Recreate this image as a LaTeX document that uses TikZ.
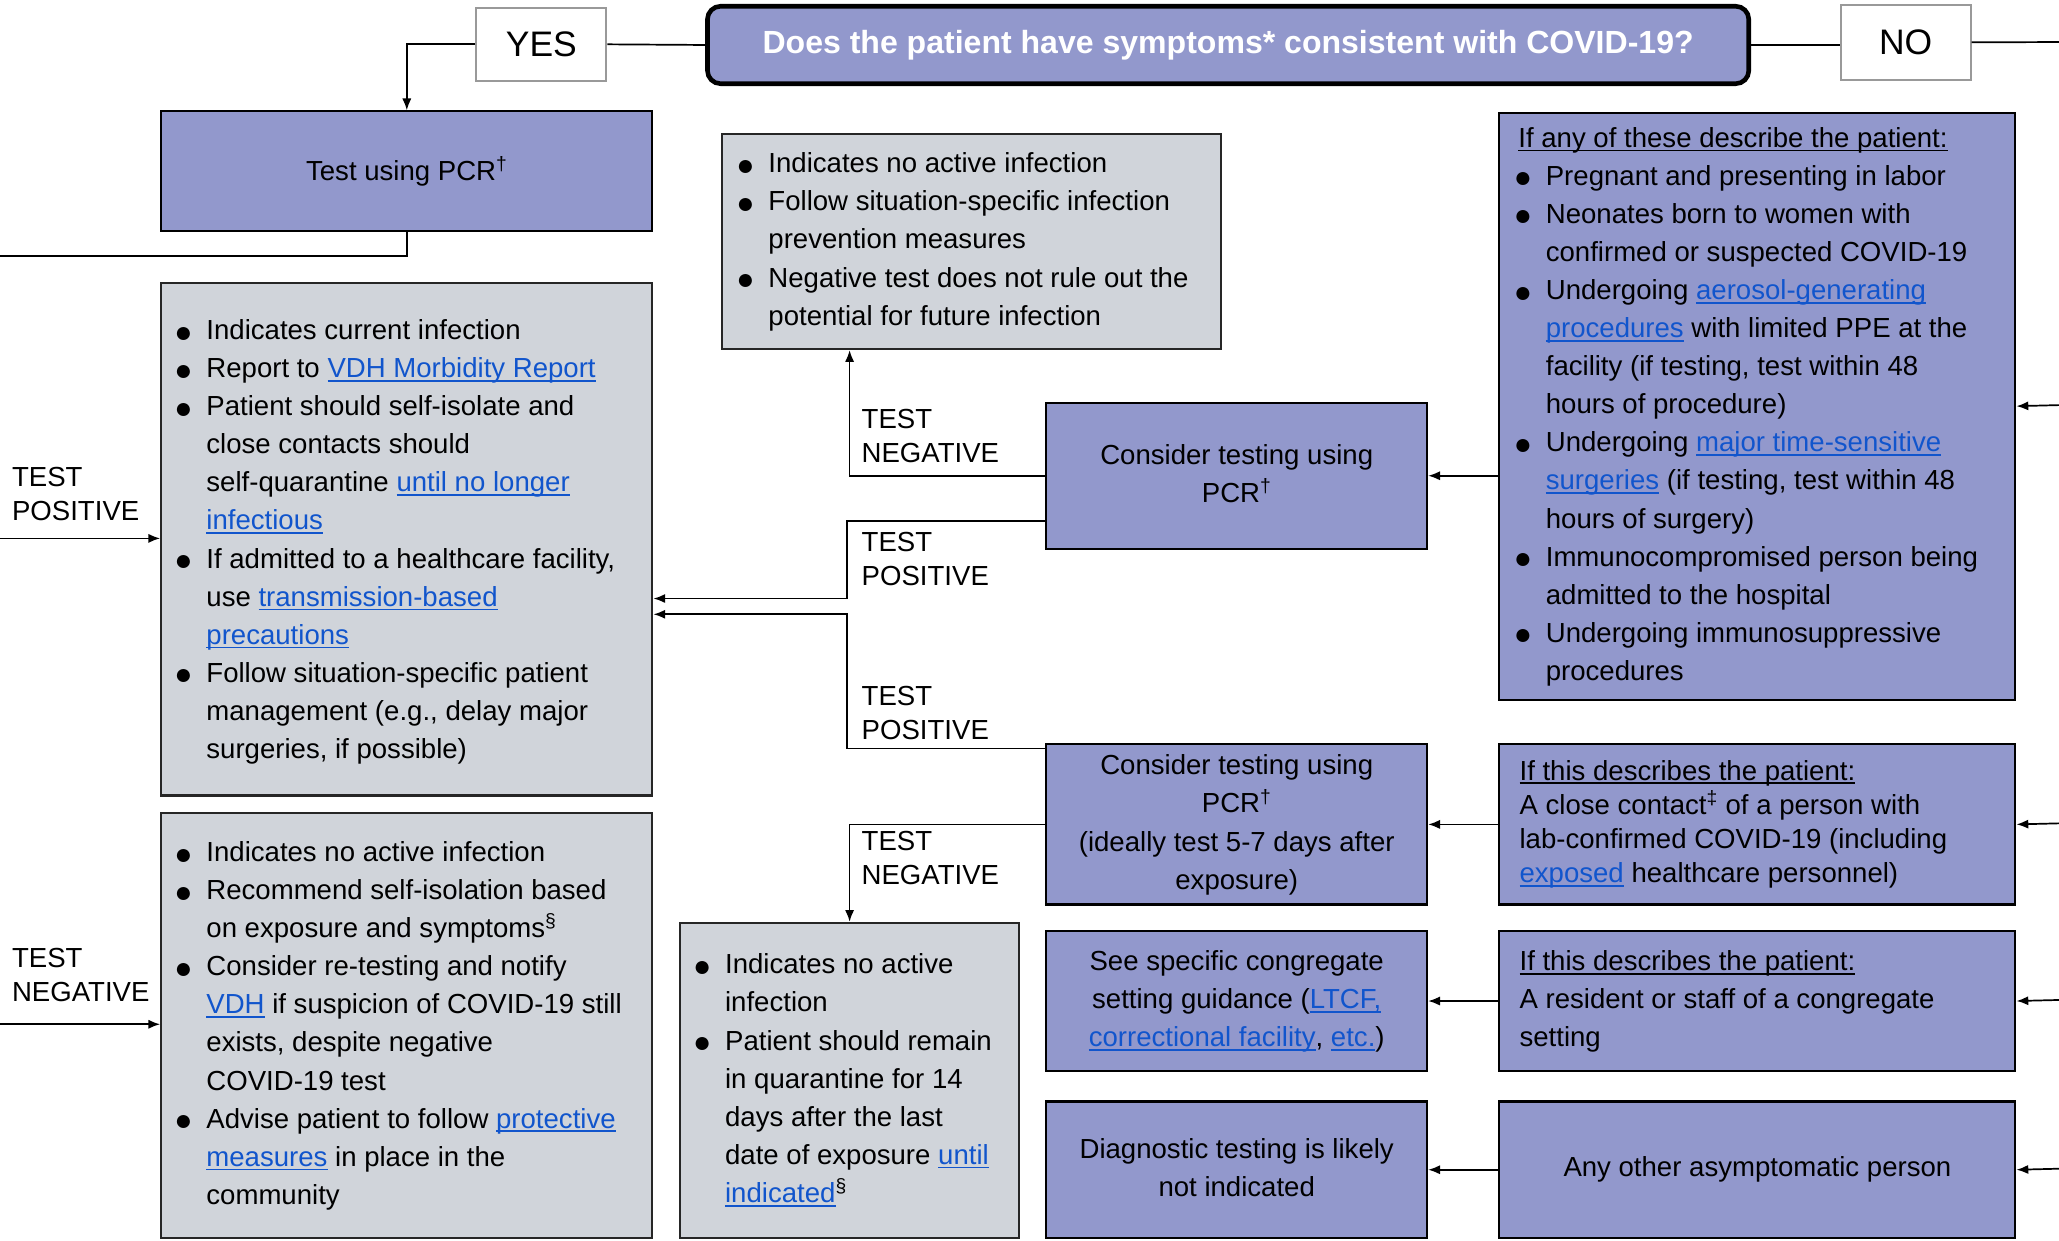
\documentclass[tikz,border=0pt]{standalone}
\usepackage{fontspec}
\setmainfont{Liberation Sans}
\usetikzlibrary{arrows.meta}
\definecolor{boxblue}{RGB}{146,152,204}
\definecolor{boxgray}{RGB}{208,212,218}
\definecolor{linkblue}{RGB}{17,85,204}
\newsavebox\ulbox
\newcommand\myul[1]{\sbox\ulbox{#1}\rlap{\rule[-3.2pt]{\wd\ulbox}{1.4pt}}\usebox\ulbox}
\newcommand\lnk[1]{\textcolor{linkblue}{\myul{#1}}}
\newcommand\bl{\makebox[24.4pt][l]{\raisebox{-1.9pt}{\fontsize{23}{29}\selectfont ●}}}
\newcommand\ii{\hspace*{24.4pt}}
\newcommand\dg{\textsuperscript{†}}
\newcommand\bodyfont{\fontsize{21}{29}\selectfont}
\newcommand\tightfont{\fontsize{21}{26}\selectfont}
\begin{document}
\begin{tikzpicture}[x=1pt,y=-1pt,
  box/.style={draw=black, line width=1.6pt, inner sep=0pt, anchor=north west},
  bluebox/.style={box, fill=boxblue, align=center, font=\bodyfont},
  graybox/.style={box, fill=boxgray, draw=black!85},
  ans/.style={draw=black!40, line width=1.5pt, fill=white, inner sep=0pt, anchor=north west, font=\fontsize{27}{32}\selectfont},
  txt/.style={inner sep=0pt, align=left, font=\bodyfont, anchor=west},
  lab/.style={inner sep=0pt, align=left, font=\tightfont, anchor=west},
  conn/.style={line width=1.3pt},
  arr/.style={conn, -{Latex[length=9pt,width=7pt]}},
]
\path[use as bounding box] (0,0) rectangle (1568,945);

% title and answers
\node[draw=black, line width=3.5pt, fill=boxblue, rounded corners=10pt, minimum width=793, minimum height=59, inner sep=0pt, anchor=north west, text=white, font=\fontsize{24.4}{28}\selectfont\bfseries] (q) at (537,3) {Does the patient have symptoms* consistent with COVID-19?};
\node[ans, minimum width=99, minimum height=56] (yes) at (362,5) {YES};
\node[ans, minimum width=99, minimum height=57] (no) at (1401,3) {NO};

% left column
\node[bluebox, minimum width=374, minimum height=91] (pcr) at (122,84) {Test using PCR\dg};
\node[graybox, minimum width=374, minimum height=390] (gpos) at (122,215) {};
\node[txt] (gpost) at ([xshift=10.6pt,yshift=-1.5pt]gpos.west) {\strut\bl Indicates current infection\\
\bl Report to \lnk{VDH Morbidity Report}\\
\bl Patient should self-isolate and\\
\ii close contacts should\\
\ii self-quarantine \lnk{until no longer}\\
\ii\lnk{infectious}\\
\bl If admitted to a healthcare facility,\\
\ii use \lnk{transmission-based}\\
\ii\lnk{precautions}\\
\bl Follow situation-specific patient\\
\ii management (e.g., delay major\\
\ii surgeries, if possible)\strut};
\node[graybox, minimum width=374, minimum height=324] (gneg) at (122,618) {};
\node[txt] (gnegt) at ([xshift=10.6pt]gneg.west) {\strut\bl Indicates no active infection\\
\bl Recommend self-isolation based\\
\ii on exposure and symptoms\textsuperscript{§}\\
\bl Consider re-testing and notify\\
\ii\lnk{VDH} if suspicion of COVID-19 still\\
\ii exists, despite negative\\
\ii COVID-19 test\\
\bl Advise patient to follow \lnk{protective}\\
\ii\lnk{measures} in place in the\\
\ii community\strut};

% middle column
\node[graybox, minimum width=380, minimum height=164] (tg) at (549,101) {};
\node[txt] (tgt) at ([xshift=11.6pt]tg.west) {\strut\bl Indicates no active infection\\
\bl Follow situation-specific infection\\
\ii prevention measures\\
\bl Negative test does not rule out the\\
\ii potential for future infection\strut};
\node[bluebox, minimum width=290, minimum height=111] (pcr1) at (796,306) {\strut Consider testing using\\PCR\dg\strut};
\node[bluebox, minimum width=290, minimum height=122] (pcr2) at (796,566) {\strut Consider testing using\\PCR\dg\\(ideally test 5-7 days after\\exposure)\strut};
\node[graybox, minimum width=258, minimum height=240] (bg) at (517,702) {};
\node[txt] (bgt) at ([xshift=10.6pt]bg.west) {\strut\bl Indicates no active\\
\ii infection\\
\bl Patient should remain\\
\ii in quarantine for 14\\
\ii days after the last\\
\ii date of exposure \lnk{until}\\
\ii\lnk{indicated}\textsuperscript{§}\strut};
\node[bluebox, minimum width=290, minimum height=107] (cong) at (796,708) {\strut See specific congregate\\setting guidance (\lnk{LTCF,}\\\lnk{correctional facility}, \lnk{etc.})\strut};
\node[bluebox, minimum width=290, minimum height=104] (diag) at (796,838) {\strut Diagnostic testing is likely\\not indicated\strut};

% right column
\node[bluebox, minimum width=393, minimum height=447] (r1) at (1141,85) {};
\node[txt] (r1t) at ([xshift=11.6pt]r1.west) {\strut\hspace*{3.5pt}\myul{If any of these describe the patient:}\\
\bl Pregnant and presenting in labor\\
\bl Neonates born to women with\\
\ii confirmed or suspected COVID-19\\
\bl Undergoing \lnk{aerosol-generating}\\
\ii\lnk{procedures} with limited PPE at the\\
\ii facility (if testing, test within 48\\
\ii hours of procedure)\\
\bl Undergoing \lnk{major time-sensitive}\\
\ii\lnk{surgeries} (if testing, test within 48\\
\ii hours of surgery)\\
\bl Immunocompromised person being\\
\ii admitted to the hospital\\
\bl Undergoing immunosuppressive\\
\ii procedures\strut};
\node[bluebox, minimum width=393, minimum height=122] (r2) at (1141,566) {};
\node[txt, font=\tightfont] (r2t) at ([xshift=16pt]r2.west) {\strut\myul{If this describes the patient:}\\
A close contact\textsuperscript{‡} of a person with\\
lab-confirmed COVID-19 (including\\
\lnk{exposed} healthcare personnel)\strut};
\node[bluebox, minimum width=393, minimum height=107] (r3) at (1141,708) {};
\node[txt] (r3t) at ([xshift=16pt]r3.west) {\strut\myul{If this describes the patient:}\\
A resident or staff of a congregate\\
setting\strut};
\node[bluebox, minimum width=393, minimum height=104] (r4) at (1141,838) {Any other asymptomatic person};

% free ends
\coordinate (noR) at (1568,32);
\coordinate (pcrL) at (0,195);
\coordinate (posL) at (0,410);
\coordinate (negL) at (0,780);
\coordinate (r1R) at (1568,308.5);
\coordinate (r2R) at (1568,627);
\coordinate (r3R) at (1568,761.5);
\coordinate (r4R) at (1568,890);

% connectors
\draw[conn] (q.west) -- (yes.east);
\draw[arr] (yes.west) -| (pcr.north);
\draw[conn] (q.east) -- (q.east -| no.west);
\draw[conn] (no.east) -- (noR);
\draw[conn] (pcr.south) |- (pcrL);
\draw[arr] (posL) -- (posL -| gpos.west);
\draw[arr] (negL) -- (negL -| gneg.west);
\draw[arr] (r1R) -- (r1.east);
\draw[arr] (r2R) -- (r2.east);
\draw[arr] (r3R) -- (r3.east);
\draw[arr] (r4R) -- (r4.east);
\draw[arr] (r1.west |- pcr1.east) -- (pcr1.east);
\draw[arr] (r2.west) -- (pcr2.east);
\draw[arr] (r3.west) -- (cong.east);
\draw[arr] (r4.west) -- (diag.east);
\draw[arr] (pcr1.west) -| ([xshift=98pt]tg.south west);
\draw[arr] ([yshift=-34.5pt]pcr1.west) -- ++(-151,0) |- ([yshift=-45pt]gpos.east);
\draw[arr] ([yshift=-4pt]pcr2.north west) -- ++(-151,0) |- ([yshift=-57pt]gpos.east);
\draw[arr] (pcr2.west) -| ([xshift=130pt]bg.north west);

% labels
\node[lab] (lneg1) at (656,332) {TEST\\NEGATIVE};
\node[lab] (lpos1) at (656,426) {TEST\\POSITIVE};
\node[lab] (lpos2) at (656,543) {TEST\\POSITIVE};
\node[lab] (lneg2) at (656,653.5) {TEST\\NEGATIVE};
\node[lab] (lposL) at (9,376.5) {TEST\\POSITIVE};
\node[lab] (lnegL) at (9,742.5) {TEST\\NEGATIVE};
\end{tikzpicture}
\end{document}
